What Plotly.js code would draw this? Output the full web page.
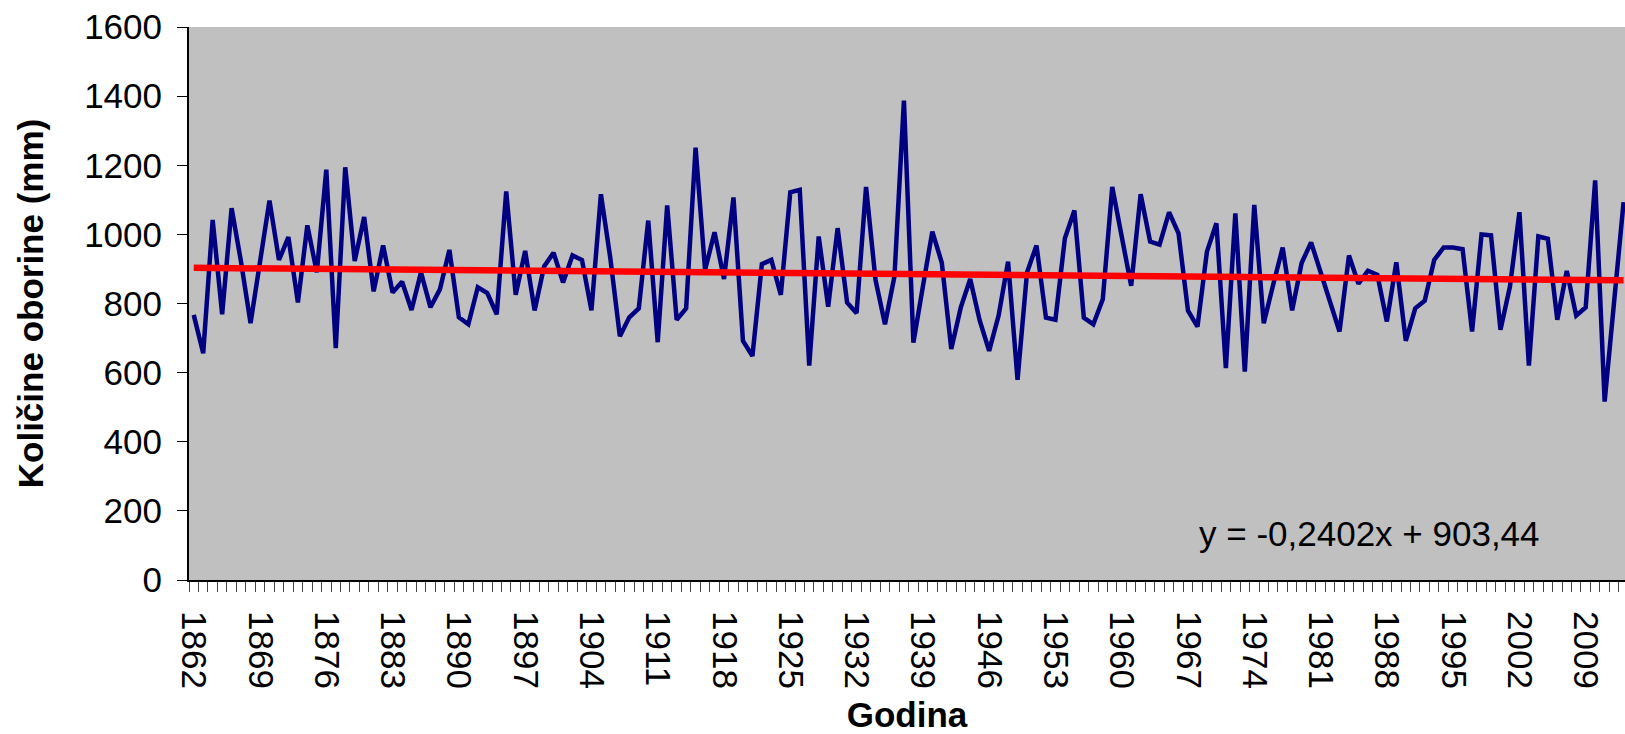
<!DOCTYPE html>
<html><head><meta charset="utf-8">
<script src="https://cdn.plot.ly/plotly-3.0.1.min.js"></script>
<style>html,body{margin:0;padding:0;background:#fff;} #chart{width:1625px;height:734px;}</style>
</head><body><div id="chart"></div>
<script>
const years = [
 1862,1863,1864,1865,1866,1867,1868,1869,1870,1871,
 1872,1873,1874,1875,1876,1877,1878,1879,1880,1881,
 1882,1883,1884,1885,1886,1887,1888,1889,1890,1891,
 1892,1893,1894,1895,1896,1897,1898,1899,1900,1901,
 1902,1903,1904,1905,1906,1907,1908,1909,1910,1911,
 1912,1913,1914,1915,1916,1917,1918,1919,1920,1921,
 1922,1923,1924,1925,1926,1927,1928,1929,1930,1931,
 1932,1933,1934,1935,1936,1937,1938,1939,1940,1941,
 1942,1943,1944,1945,1946,1947,1948,1949,1950,1951,
 1952,1953,1954,1955,1956,1957,1958,1959,1960,1961,
 1962,1963,1964,1965,1966,1967,1968,1969,1970,1971,
 1972,1973,1974,1975,1976,1977,1978,1979,1980,1981,
 1982,1983,1984,1985,1986,1987,1988,1989,1990,1991,
 1992,1993,1994,1995,1996,1997,1998,1999,2000,2001,
 2002,2003,2004,2005,2006,2007,2008,2009,2010,2011,
 2012,2013
];
const precipitation = [
 767,656,1042,769,1076,920,743,925,1098,926,
 992,803,1026,890,1187,671,1194,923,1050,835,
 968,832,863,781,890,789,841,955,760,740,
 847,830,769,1124,825,952,780,907,947,861,
 939,926,780,1116,930,705,760,786,1040,688,
 1084,753,786,1251,897,1006,871,1107,692,648,
 914,926,825,1122,1129,620,994,791,1018,803,
 772,1137,868,740,878,1387,687,849,1008,918,
 668,788,871,751,663,765,921,579,890,968,
 759,753,989,1069,759,740,812,1137,985,851,
 1116,979,970,1064,1003,779,733,950,1032,613,
 1061,603,1085,743,855,962,780,917,977,891,
 806,719,939,857,895,883,748,919,692,786,
 808,926,962,962,957,719,1000,997,724,849,
 1064,620,994,987,753,894,765,789,1156,516,
 805,1093
];
const trendSlope = -0.2402;
const trendIntercept = 903.44;
const trendLabel = 'y = -0,2402x + 903,44';
const xTitle = 'Godina';
const yTitle = 'Količine oborine (mm)';

const trendY = years.map((y, i) => trendSlope * (i + 1) + trendIntercept);

const FONT = '"Liberation Sans", Arial, sans-serif';

const data = [
  {x: years, y: precipitation, type: 'scatter', mode: 'lines',
   line: {color: '#000080', width: 4.5}, hoverinfo: 'x+y', showlegend: false},
  {x: years, y: trendY, type: 'scatter', mode: 'lines',
   line: {color: '#FF0000', width: 6.5}, hoverinfo: 'skip', showlegend: false}
];

const layout = {
  width: 1625, height: 734,
  margin: {l: 189, r: 0, t: 27, b: 154, pad: 0},
  paper_bgcolor: '#FFFFFF',
  plot_bgcolor: '#C0C0C0',
  font: {family: FONT, size: 35, color: '#000'},
  showlegend: false,
  xaxis: {
    range: [1861.5, 2013.15],
    tick0: 1862, dtick: 7,
    ticks: '', tickangle: 90,
    ticklabelstandoff: 22,
    tickfont: {family: FONT, size: 35, color: '#000'},
    showgrid: false, zeroline: false,
    showline: true, linecolor: '#000', linewidth: 2,
    minor: {tick0: 1861.5, dtick: 1, ticks: 'outside', ticklen: 10, tickwidth: 1, tickcolor: '#444', showgrid: false},
    title: {text: '<b>' + xTitle + '</b>', font: {family: FONT, size: 35, color: '#000'}, standoff: 22}
  },
  yaxis: {
    range: [0, 1600], dtick: 200,
    ticks: 'outside', ticklen: 10, tickwidth: 1, tickcolor: '#000',
    ticklabelstandoff: 8,
    tickfont: {family: FONT, size: 35, color: '#000'},
    showgrid: false, zeroline: false,
    showline: true, linecolor: '#000', linewidth: 2,
    title: {text: '<b>' + yTitle + '</b>', font: {family: FONT, size: 35, color: '#000'}, standoff: 30}
  },
  annotations: [{
    x: 0.822, xref: 'paper', y: 136, yref: 'y',
    text: trendLabel, showarrow: false,
    xanchor: 'center', yanchor: 'middle',
    font: {family: FONT, size: 35, color: '#000'}
  }]
};

Plotly.newPlot('chart', data, layout, {displayModeBar: false, staticPlot: true});
</script>
</body></html>
